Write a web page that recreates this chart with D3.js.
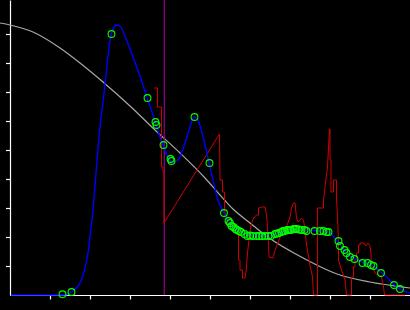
<!DOCTYPE html>
<html><head><meta charset="utf-8">
<script src="https://cdn.jsdelivr.net/npm/d3@7/dist/d3.min.js"></script>
<style>html,body{margin:0;padding:0;background:#000;}svg{display:block;background:#000;}</style>
</head><body>
<svg id="c" width="410" height="310"></svg>
<script>
// ---- data (x: 0..400, y: 0..295) ----
const xTicks = [40, 80, 120, 160, 200, 240, 280, 320, 360];
const yTicks = [29, 58, 87, 116, 145, 174, 203, 232, 261];
const purpleX = 153.8;

const grayCurve = [
  [-10.5,272],[-0.5,270],[22.5,263],[49.5,247],[69.5,232],[92.5,213],[119.5,189],
  [144.5,165],[169.5,142],[194.5,117],[209.5,100],[222.5,86],[239.5,72],[254.5,60],
  [294.5,36],[326.5,21],[359.5,13],[399.5,7]
];

const blueCurve = [
  [0.5,0],[49.5,0],[56,0.2],[61,3.3],[67.5,9],[71,15],[74.5,27],[77.5,42],[80,62],
  [82.5,85],[86,128],[89.5,168],[93,197],[96,225],[99.5,255],[102.5,266],[106,270],
  [109.5,269],[116,255],[122.5,238],[129.5,219],[136,199],[142.5,180],[147.5,164],
  [152.5,150],[157.5,138],[162.5,133],[167.5,135],[174.5,152],[179.5,168],[183.5,178],
  [187.5,175],[192.5,158],[197.5,137],[202.5,115],[207.5,95],[212.5,84],[217.5,74],
  [224.5,67],[234.5,61],[247.5,59],[257.5,59],[271.5,63],[281.5,65],[291.5,65],
  [304.5,64.5],[317.5,63],[327.5,53],[337.5,40],[344.5,36],[354.5,32],[362.5,29],
  [371.5,22],[384.5,10],[389.5,6],[399.5,2]
];

const redSeries = [
  [143.5,207],[147,207],[147,188],[151,188],[151,128],[152.5,128],[152.5,123],[153.5,123],
  [153.5,72],[209,161],[209.5,115],[212,115],[212,103],[214,103],[214,85],[214.5,82],
  [216,77],[217,72],[219.5,70],[221,65],[224.5,63],[228,60],[228,35],[229.5,35],[229.5,25],
  [232,25],[232,17],[234.5,17],[235.5,23],[237,42],[238.5,55],[240.5,70],[243,77],[246,80],
  [248,80],[248,87],[251,88],[254.5,88],[256,80],[257,67],[258,50],[258.5,38],[262.5,37],
  [264,43],[265.5,47],[268,54],[269.5,58],[271,62],[274.5,65],[277,71],[279.5,78],[281,87],
  [283,92],[284.5,92],[286,77],[288,73],[289.5,75],[291,77],[293,75],[294.5,65],[296,50],
  [298,39],[299.5,29],[301,23],[302,18],[303,0],[307,0],[307,87],[313,87],[313,95],[314,103],
  [314.5,108],[316,120],[317,128],[318,147],[319,166],[319.5,166],[319.5,135],[320.5,135],
  [320.5,103],[323,103],[323,115],[326,115],[326,97],[327,78],[328,52],[328,35],[331,25],
  [333,20],[334.5,15],[336,0],[341,0],[341,18],[343,18],[343,28],[344.5,28],[344.5,35],
  [346,35],[346,42],[348,42],[348,50],[349.5,50],[349.5,52],[353.5,52],[355.5,49],[357.5,52],
  [359.5,49],[360.5,42],[361,28],[363,27],[364.5,22],[371,18],[373,8],[374,0],[394.5,0]
];

const markerPoints = [
  [52,0.7],[61,3],[101,261],[137,197],[145,173],[146,170],[153,150],[160,136],[161,134],
  [184,178],[199,132],[213.5,82],[218,74],[219.5,72],[221,69],[223,68],[225,66],[226.5,65],
  [228.5,64],[230.5,63],[234,61],[237,59],[239.5,59.5],[242,59],[246,59],[249,59],[251.5,59],
  [254.5,59],[258,59],[260.5,59],[264.5,61],[266.5,61.5],[268.5,62],[271,63],[272.5,64],
  [274.5,64],[276.5,65],[278,65],[279.5,65],[280.5,65],[283,66],[284.5,66],[286,66],
  [288.5,65.5],[291,65],[294,65],[296,64],[304,64],[309.5,64],[313,64],[316,63],[318,63],
  [328,54],[329.5,49],[334,45],[336,42],[339.5,38],[344,36],[352,32],[357,32],[360.5,30],
  [363,29],[370.5,22],[383.5,10],[389.5,6]
];

// ---- drawing ----
const svg = d3.select("#c");
const x = d3.scaleLinear().domain([0, 400]).range([10.5, 410.5]);
const y = d3.scaleLinear().domain([0, 295]).range([295, 0]);

const xAxis = d3.axisBottom(x).tickValues(xTicks).tickSize(4).tickSizeOuter(0).tickFormat("").offset(0);
const yAxis = d3.axisLeft(y).tickValues(yTicks).tickSize(4).tickSizeOuter(0).tickFormat("").offset(0.5);

const gx = svg.append("g").attr("transform", "translate(0,295.5)").call(xAxis);
const gy = svg.append("g").attr("transform", "translate(10,0)").call(yAxis);
[gx, gy].forEach(g => {
  g.selectAll("path,line").attr("stroke", "#fff").attr("stroke-width", 1.2);
});

const lineMono = d3.line().x(d => x(d[0])).y(d => y(d[1])).curve(d3.curveMonotoneX);
const lineLin = d3.line().x(d => x(d[0])).y(d => y(d[1]));

svg.append("path").attr("d", lineMono(grayCurve))
  .attr("fill", "none").attr("stroke", "#a8a8a8").attr("stroke-width", 1.2);

svg.append("line")
  .attr("x1", x(purpleX)).attr("x2", x(purpleX))
  .attr("y1", y(0)).attr("y2", y(y.domain()[1]))
  .attr("stroke", "#8a008a").attr("stroke-width", 1.3);

svg.append("path").attr("d", lineLin(redSeries))
  .attr("fill", "none").attr("stroke", "#d00000").attr("stroke-width", 1);

svg.append("path").attr("d", lineMono(blueCurve))
  .attr("fill", "none").attr("stroke", "#0000ff").attr("stroke-width", 1.4);

svg.append("g").selectAll("circle").data(markerPoints).join("circle")
  .attr("cx", d => x(d[0])).attr("cy", d => y(d[1])).attr("r", 3.4)
  .attr("fill", "none").attr("stroke", "#00ff00").attr("stroke-width", 1.1);
</script>
</body></html>
